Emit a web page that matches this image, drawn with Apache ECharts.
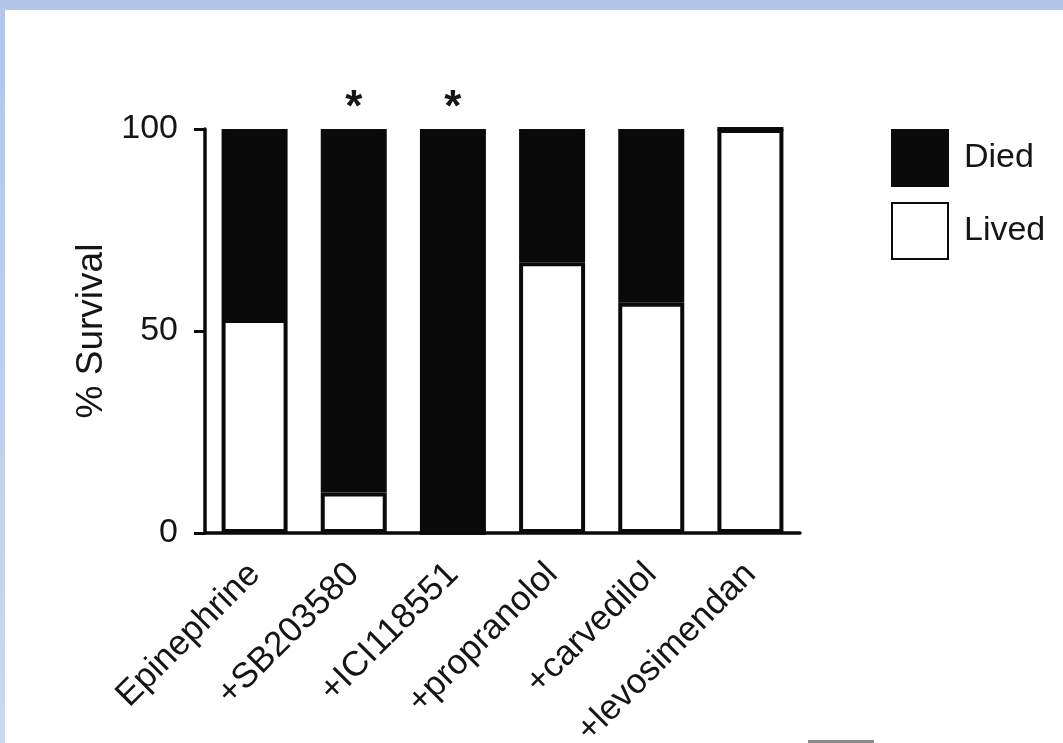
<!DOCTYPE html>
<html>
<head>
<meta charset="utf-8">
<script src="https://cdn.jsdelivr.net/npm/echarts@6/dist/echarts.min.js"></script>
<style>
html,body{margin:0;padding:0;background:#fff;}
#chart{width:1063px;height:743px;}
</style>
</head>
<body>
<div id="chart"></div>
<script>
const categories = ['Epinephrine', '+SB203580', '+ICI118551', '+propranolol', '+carvedilol', '+levosimendan'];
const lived = [53, 10, 0, 67, 57, 100];
const died = [47, 90, 100, 33, 43, 0];
const significance = ['', '*', '*', '', '', ''];
const yTicks = [0, 50, 100];

const FONT = '"Liberation Sans", Arial, Helvetica, sans-serif';
const INK = '#0a0a0a';
const TEXT = '#151515';

const chart = echarts.init(document.getElementById('chart'), null, {renderer: 'canvas'});
chart.setOption({
  backgroundColor: '#ffffff',
  animation: false,
  grid: {left: 205, right: 263, top: 129, bottom: 210, containLabel: false, outerBoundsMode: 'none'},
  legend: {
    orient: 'vertical',
    left: 886, top: 124,
    data: ['Died', 'Lived'],
    icon: 'rect',
    itemWidth: 56, itemHeight: 56, itemGap: 15,
    textStyle: {fontFamily: FONT, fontSize: 34, color: TEXT, padding: [0, 0, 0, 11]}
  },
  xAxis: {
    type: 'category',
    data: categories,
    axisLine: {lineStyle: {color: INK, width: 3.5}},
    axisTick: {alignWithLabel: true, length: 11, lineStyle: {color: INK, width: 3}},
    axisLabel: {rotate: 45, margin: 36, fontFamily: FONT, fontSize: 35, color: TEXT, interval: 0},
    splitLine: {show: false}
  },
  yAxis: {
    type: 'value',
    min: yTicks[0], max: yTicks[yTicks.length - 1], interval: 50,
    name: '% Survival',
    nameLocation: 'middle',
    nameGap: 88,
    nameRotate: 90,
    nameTextStyle: {fontFamily: FONT, fontSize: 37, color: TEXT},
    axisLine: {show: true, lineStyle: {color: INK, width: 3.5}},
    axisTick: {show: true, length: 11, lineStyle: {color: INK, width: 3}},
    axisLabel: {margin: 27, fontFamily: FONT, fontSize: 34, color: TEXT},
    splitLine: {show: false}
  },
  series: [
    {
      name: 'Lived', type: 'bar', stack: 'total', data: lived,
      barWidth: 66,
      itemStyle: {color: '#ffffff', borderColor: INK, borderWidth: 4}
    },
    {
      name: 'Died', type: 'bar', stack: 'total', data: died,
      barWidth: 66,
      itemStyle: {color: INK, borderColor: INK, borderWidth: 4},
      label: {
        show: true, position: 'top', distance: -2,
        formatter: p => significance[p.dataIndex],
        fontFamily: FONT, fontSize: 44, fontWeight: 'bold', color: TEXT
      }
    }
  ],
  graphic: [
    {type: 'rect', left: 0, top: 0, shape: {width: 1063, height: 10}, style: {fill: '#b1c6e8'}, silent: true},
    {type: 'rect', left: 0, top: 0, shape: {width: 5, height: 743},
     style: {fill: new echarts.graphic.LinearGradient(0, 0, 0, 1, [{offset: 0, color: '#b1c6e8'}, {offset: 1, color: '#cbd8ef'}])}, silent: true},
    {type: 'rect', left: 808, top: 740, shape: {width: 66, height: 3}, style: {fill: '#8a8a8a'}, silent: true}
  ]
});
</script>
</body>
</html>
